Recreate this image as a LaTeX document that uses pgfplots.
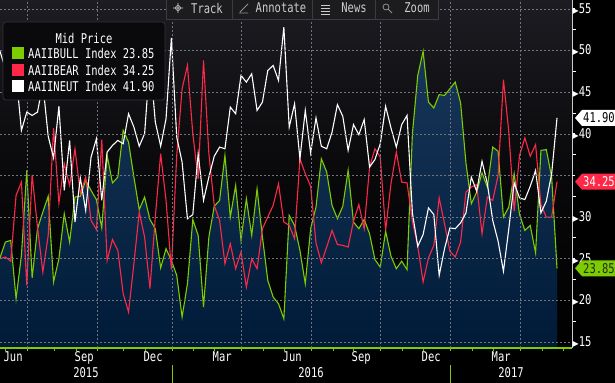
\documentclass[border=0pt]{standalone}
\usepackage{pgfplots}
\pgfplotsset{compat=1.18}
\usepackage{pgfplotstable}
\usepackage{fontspec}
\setmainfont{DejaVu Sans Mono}[FakeStretch=0.78]
\newfontfamily\symfont{DejaVu Sans}
\definecolor{bull}{RGB}{124,204,0}
\definecolor{bear}{RGB}{255,40,72}
\definecolor{gridc}{RGB}{115,115,125}
\definecolor{areatop}{RGB}{24,54,90}
\definecolor{areabot}{RGB}{0,27,56}
\definecolor{bgtop}{RGB}{28,28,34}
\definecolor{bgmid}{RGB}{9,9,11}
\definecolor{legbg}{RGB}{10,10,12}
\definecolor{legbd}{RGB}{50,50,56}
\definecolor{toolbg}{RGB}{28,28,31}
\definecolor{toolbd}{RGB}{60,60,66}
\definecolor{tooltx}{RGB}{205,205,205}

\pgfplotstableread{
j bull bear neut
0 25.1 25.0 49.9
1 27.0 25.2 47.8
2 27.2 24.7 48.1
3 20.2 32.6 47.2
4 25.4 34.2 40.4
5 35.6 21.8 42.6
6 22.7 35.1 42.2
7 28.6 28.8 42.6
8 30.6 23.4 46.0
9 32.5 27.8 39.7
10 22.2 40.7 37.1
11 25.0 31.7 43.3
12 30.4 36.4 33.2
13 27.0 33.8 39.2
14 32.4 38.2 29.4
15 32.5 32.8 34.7
16 34.4 34.8 30.8
17 33.2 29.6 37.2
18 32.1 28.5 39.4
19 28.7 39.3 32.0
20 37.4 24.8 37.8
21 34.1 27.3 38.6
22 34.8 26.0 39.2
23 40.4 20.8 38.8
24 39.0 18.6 42.4
25 34.8 24.4 40.8
26 30.9 30.6 38.5
27 32.4 27.6 40.0
28 29.7 21.4 48.9
29 28.6 30.0 41.4
30 23.9 37.6 38.5
31 26.2 32.0 41.8
32 24.8 23.7 51.5
33 23.0 37.4 39.6
34 18.0 45.4 36.6
35 22.0 48.2 29.8
36 29.7 40.0 30.3
37 27.8 34.6 37.6
38 19.2 48.8 32.0
39 27.6 37.6 34.8
40 31.3 31.4 37.3
41 32.0 29.6 38.4
42 37.4 24.4 38.2
43 30.0 26.8 43.2
44 33.8 23.8 42.4
45 27.2 25.8 47.0
46 32.2 21.6 46.2
47 27.8 25.0 47.2
48 33.4 23.8 42.8
49 27.6 28.6 43.8
50 22.4 30.0 47.6
51 20.4 31.4 48.2
52 19.6 34.0 46.4
53 17.8 29.4 52.8
54 30.2 29.0 40.8
55 29.0 27.4 43.6
56 26.0 37.0 37.0
57 22.0 35.2 42.8
58 28.6 33.7 37.7
59 31.2 26.9 41.9
60 37.0 24.5 38.5
61 35.4 26.4 38.2
62 31.4 28.4 40.2
63 29.8 26.7 43.5
64 31.3 26.6 42.1
65 35.6 26.4 38.0
66 29.4 29.5 41.1
67 28.6 31.5 39.9
68 29.7 28.6 41.7
69 28.0 36.0 36.0
70 24.9 38.2 36.9
71 24.0 37.2 38.8
72 28.3 28.4 43.3
73 25.3 34.0 40.7
74 23.8 37.8 38.4
75 24.7 34.2 41.1
76 23.7 34.1 42.2
77 40.0 29.5 30.5
78 47.0 26.5 26.5
79 49.9 22.2 27.9
80 43.8 25.1 31.1
81 43.1 26.6 30.3
82 44.7 32.3 23.0
83 44.6 29.2 26.2
84 45.4 25.9 28.7
85 46.2 25.2 28.6
86 43.7 27.0 29.3
87 36.5 33.0 30.5
88 31.6 33.6 34.8
89 33.0 33.9 33.1
90 35.3 28.0 36.7
91 33.6 32.4 34.0
92 38.4 32.0 29.6
93 37.9 35.0 27.1
94 30.0 46.5 23.5
95 31.2 40.2 28.6
96 35.2 30.7 34.1
97 30.3 37.4 32.3
98 28.4 39.5 32.1
99 29.0 37.3 33.7
100 25.7 38.7 35.6
101 38.0 31.5 30.5
102 38.1 30.0 31.9
103 34.8 30.0 35.2
104 23.85 34.25 41.90
}\data

\begin{document}
\begin{tikzpicture}[font=\fontsize{13.5}{15}\selectfont]
\useasboundingbox (0bp,-35bp) rectangle (615bp,348bp);
\fill[black] (0bp,-35bp) rectangle (615bp,348bp);
\begin{axis}[
  at={(0bp,0bp)}, anchor=south west,
  scale only axis, width=572bp, height=348bp,
  xmin=0, xmax=106.8, ymin=14.28, ymax=56.06,
  axis background/.style={top color=bgtop, bottom color=black, middle color=bgmid},
  axis x line*=bottom, axis y line*=right,
  x axis line style={bull, line width=1.3bp},
  y axis line style={white!80!black, line width=0.8bp},
  axis on top,
  tick align=outside,
  major tick length=3bp, minor tick length=4bp,
  xtick={0.93,5.04,10.08,14.19,18.11,22.97,27.07,32.11,36.03,39.96,45.0,49.1,53.03,58.07,62.17,65.91,70.95,75.06,78.98,84.02,88.13,92.05,97.09,101.2,105.1},
  xticklabels={Jun,,,Sep,,,Dec,,,Mar,,,Jun,,,Sep,,,Dec,,,Mar,,,,},
  xtick style={bull, line width=0.8bp},
  xticklabel style={anchor=north west, xshift=-2.5bp, yshift=1bp, text=white, inner sep=1bp},
  extra x ticks={5.04,18.11,32.11,45.0,58.07,70.95,84.02,97.09},
  extra x tick labels={},
  extra x tick style={grid=major, tick style={bull, line width=0.8bp}},
  ytick={15,20,25,30,40,45,50,55},
  extra y ticks={35},
  extra y tick labels={},
  extra y tick style={grid=major, tick style={white, line width=0.8bp}},
  minor ytick={17.5,22.5,27.5,32.5,37.5,42.5,47.5,52.5},
  ytick style={white, line width=0.8bp},
  yticklabel={{\symfont\fontsize{8}{8}\selectfont ▶}\pgfmathprintnumber{\tick}},
  yticklabel style={anchor=west, text=white, inner sep=0.5bp, xshift=-3bp},
  ymajorgrids,
  major grid style={gridc, dash pattern=on 2bp off 2bp, line width=0.5bp},
  /pgf/number format/assume math mode=true,
]
\addplot[draw=none, top color=areatop, bottom color=areabot, forget plot]
  table[x=j,y=bull]{\data} -- (axis cs:104,14.28) -- (axis cs:0,14.28) -- cycle;
\addplot[bull, line width=1.1bp] table[x=j,y=bull]{\data};
\addplot[bear, line width=1.1bp] table[x=j,y=bear]{\data};
\addplot[white, line width=1.1bp] table[x=j,y=neut]{\data};
\coordinate (tN) at (axis cs:106.8,41.90);
\coordinate (tR) at (axis cs:106.8,34.25);
\coordinate (tB) at (axis cs:106.8,23.85);
\end{axis}

% last value tags
\fill[white] ([xshift=3bp]tN) -- ++(7bp,8bp) -- ++(35bp,0) -- ++(0,-16bp) -- ++(-35bp,0) -- cycle;
\node[text=black] at ([xshift=27bp]tN) {41.90};
\fill[bear] ([xshift=3bp]tR) -- ++(7bp,8bp) -- ++(35bp,0) -- ++(0,-16bp) -- ++(-35bp,0) -- cycle;
\node[text=white] at ([xshift=27bp]tR) {34.25};
\fill[bull] ([xshift=3bp]tB) -- ++(7bp,8bp) -- ++(35bp,0) -- ++(0,-16bp) -- ++(-35bp,0) -- cycle;
\node[text=black!85] at ([xshift=27bp]tB) {23.85};

% year row
\node[text=white] at (86bp,-25bp) {2015};
\node[text=white] at (311bp,-25bp) {2016};
\node[text=white] at (511bp,-25bp) {2017};
\draw[bull, line width=0.8bp] (172bp,-17bp) -- (172bp,-35bp);
\draw[bull, line width=0.8bp] (450bp,-17bp) -- (450bp,-35bp);

% legend
\draw[fill=legbg, draw=legbd, rounded corners=3bp, line width=0.8bp] (3bp,326bp) rectangle (165bp,248bp);
\node[text=white] at (84bp,310bp) {Mid Price};
\fill[bull] (12bp,289bp) rectangle (24bp,301bp);
\node[text=white, anchor=west, inner sep=0pt] at (28bp,295bp) {AAIIBULL Index 23.85};
\fill[bear] (12bp,272bp) rectangle (24bp,284bp);
\node[text=white, anchor=west, inner sep=0pt] at (28bp,278bp) {AAIIBEAR Index 34.25};
\fill[white] (12bp,256bp) rectangle (24bp,268bp);
\node[text=white, anchor=west, inner sep=0pt] at (28bp,262bp) {AAIINEUT Index 41.90};

% toolbar
\fill[toolbg] (166bp,329bp) rectangle (438bp,352bp);
\draw[toolbd, line width=0.8bp] (166bp,352bp) -- (166bp,329bp) -- (438bp,329bp) -- (438bp,352bp);
\foreach \sx in {232,312,375} \draw[toolbd, line width=0.8bp] (\sx bp,329bp) -- (\sx bp,348bp);
\draw[tooltx, line width=0.6bp] (178bp,340bp) circle (2.5bp) (173bp,340bp) -- (183bp,340bp) (178bp,335bp) -- (178bp,345bp);
\draw[tooltx!70!black, line width=0.8bp] (240bp,336bp) -- (248bp,344bp) (239bp,335bp) -- (248bp,335bp);
\draw[tooltx, line width=0.8bp] (321bp,343bp) -- (330bp,343bp) (321bp,340bp) -- (330bp,340bp) (321bp,337bp) -- (330bp,337bp) (321bp,334bp) -- (330bp,334bp);
\draw[tooltx!70!black, line width=0.8bp] (386bp,341bp) circle (3bp) (388bp,339bp) -- (392bp,335bp);
\node[text=tooltx] at (207bp,340bp) {Track};
\node[text=tooltx] at (281bp,340bp) {Annotate};
\node[text=tooltx] at (354bp,340bp) {News};
\node[text=tooltx] at (417bp,340bp) {Zoom};
\end{tikzpicture}
\end{document}
